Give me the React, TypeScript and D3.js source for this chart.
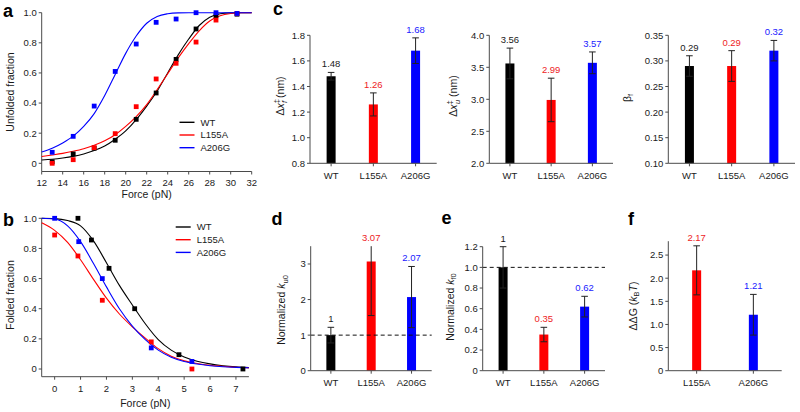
import React from "react";
import * as d3 from "d3";

// ---------- Data ----------
// Panel a: unfolded fraction vs force
const aForce = [13, 15, 17, 19, 21, 22.9, 24.8, 26.7, 28.6, 30.6];
const aWT = [0.01, 0.062, 0.1, 0.153, 0.292, 0.467, 0.69, 0.892, 0.98, 0.99];
const aL155A = [0.0, 0.024, 0.104, 0.197, 0.376, 0.56, 0.664, 0.805, 0.951, 0.995];
const aA206G = [0.073, 0.179, 0.38, 0.61, 0.792, 0.936, 0.958, 1.0, 1.0, 0.995];
// fitted curves
const aCurveForce = [12, 13, 14, 15, 16, 17, 18, 19, 20, 21, 22, 23, 24, 25, 26, 27, 28, 29, 30, 31, 32];
const aCurveWT = [0.022, 0.027, 0.035, 0.046, 0.062, 0.085, 0.115, 0.16, 0.215, 0.29, 0.38, 0.48, 0.6, 0.72, 0.825, 0.915, 0.97, 0.993, 0.999, 1, 1];
const aCurveL155A = [0.045, 0.055, 0.066, 0.08, 0.097, 0.12, 0.15, 0.19, 0.245, 0.31, 0.39, 0.49, 0.595, 0.7, 0.795, 0.88, 0.945, 0.98, 0.995, 1, 1];
const aCurveA206G = [0.075, 0.1, 0.135, 0.18, 0.245, 0.33, 0.45, 0.59, 0.73, 0.845, 0.93, 0.975, 0.993, 0.999, 1, 1, 1, 1, 1, 1, 1];

// Panel b: folded fraction vs force
const bForceWT = [0.9, 1.42, 2.1, 3.09, 4.8, 7.27];
const bWT = [1.0, 0.856, 0.668, 0.4, 0.095, 0.0];
const bForceL155A = [0, 0.9, 1.84, 3.73, 5.3];
const bL155A = [0.889, 0.75, 0.456, 0.18, 0.0];
const bForceA206G = [0, 0.93, 1.84, 3.73, 5.3];
const bA206G = [1.0, 0.845, 0.6, 0.14, 0.05];
const bCurveForce = [-0.5, 0, 0.5, 1, 1.5, 2, 2.5, 3, 3.5, 4, 4.5, 5, 5.5, 6, 6.5, 7, 7.5];
const bCurveWT = [1.0, 0.998, 0.985, 0.95, 0.85, 0.705, 0.555, 0.425, 0.3, 0.195, 0.125, 0.08, 0.052, 0.034, 0.022, 0.014, 0.009];
const bCurveL155A = [0.97, 0.92, 0.84, 0.725, 0.595, 0.47, 0.365, 0.28, 0.205, 0.135, 0.085, 0.055, 0.037, 0.025, 0.018, 0.012, 0.009];
const bCurveA206G = [1.0, 0.995, 0.95, 0.845, 0.7, 0.545, 0.4, 0.285, 0.195, 0.125, 0.078, 0.05, 0.033, 0.022, 0.015, 0.011, 0.008];

const legendNames = ["WT", "L155A", "A206G"];

// Bar panels
const categories = ["WT", "L155A", "A206G"];
const dxf = [1.48, 1.26, 1.68];
const dxfErr = [0.03, 0.09, 0.1];
const dxu = [3.56, 2.99, 3.57];
const dxuErr = [0.24, 0.34, 0.17];
const betaF = [0.29, 0.29, 0.32];
const betaFErr = [0.02, 0.03, 0.02];
const ku0 = [1, 3.07, 2.07];
const ku0Err = [0.22, 1.52, 0.86];
const kf0 = [1, 0.35, 0.62];
const kf0Err = [0.2, 0.07, 0.1];
const ddgCategories = ["L155A", "A206G"];
const ddg = [2.17, 1.21];
const ddgErr = [0.53, 0.44];

const aXTicks = [12, 14, 16, 18, 20, 22, 24, 26, 28, 30, 32];
const fracTicks = [0, 0.2, 0.4, 0.6, 0.8, 1.0];
const bXTicks = [0, 1, 2, 3, 4, 5, 6, 7];
const c1Ticks = [0.8, 1.0, 1.2, 1.4, 1.6, 1.8];
const c2Ticks = [2.0, 2.5, 3.0, 3.5, 4.0];
const c3Ticks = [0.1, 0.15, 0.2, 0.25, 0.3, 0.35];
const dTicks = [0, 1, 2, 3];
const eTicks = [0, 0.2, 0.4, 0.6, 0.8, 1.0, 1.2];
const fTicks = [0, 0.5, 1.0, 1.5, 2.0, 2.5];

// ---------- Styles ----------
const FONT = "'Liberation Sans', Arial, Helvetica, sans-serif";
const AX = "#4a4a4a";
const TXT = "#1a1a1a";
const COLORS = ["#000000", "#ff0000", "#0000ff"];
const LABEL_COLORS = ["#1a1a1a", "#ee1c25", "#1a1aff"];
const FS = 9.5;
const TFS = 10.5;

const fmt1 = (d: number) => (d === 0 ? "0" : d.toFixed(1));
const fmt2 = (d: number) => d.toFixed(2);
const fmt0 = (d: number) => String(d);

function YAxis({ scale, x, ticks, fmt, y0, y1 }: any) {
  return (
    <g>
      <line x1={x} x2={x} y1={y0} y2={y1} stroke={AX} strokeWidth={1} />
      {ticks.map((t: number) => (
        <g key={t}>
          <line x1={x - 3} x2={x} y1={scale(t)} y2={scale(t)} stroke={AX} strokeWidth={1} />
          <text x={x - 5} y={scale(t)} dy="0.36em" textAnchor="end" fontSize={FS} fill={TXT}>
            {fmt(t)}
          </text>
        </g>
      ))}
    </g>
  );
}

function XAxisNum({ scale, y, ticks, x0, x1, labelOffset }: any) {
  return (
    <g>
      <line x1={x0} x2={x1} y1={y} y2={y} stroke={AX} strokeWidth={1} />
      {ticks.map((t: number) => (
        <g key={t}>
          <line x1={scale(t)} x2={scale(t)} y1={y} y2={y + 3} stroke={AX} strokeWidth={1} />
          <text x={scale(t)} y={y + labelOffset} textAnchor="middle" fontSize={FS} fill={TXT}>
            {t}
          </text>
        </g>
      ))}
    </g>
  );
}

function CurvePanel({ x, y, axisY, xTicks, curves, points, legendX, legendY, xTitle, xTitleY, yTitle, yTitleX, yTitleY, labelOffset }: any) {
  const line = d3
    .line<[number, number]>()
    .x((d) => x(d[0]))
    .y((d) => y(d[1]))
    .curve(d3.curveMonotoneX);
  const [xa, xb] = x.range();
  return (
    <g>
      <YAxis scale={y} x={xa} ticks={fracTicks} fmt={fmt1} y0={y(1)} y1={axisY} />
      <XAxisNum scale={x} y={axisY} ticks={xTicks} x0={xa} x1={xb} labelOffset={labelOffset} />
      {curves.map((c: any, i: number) => (
        <path key={i} d={line(c.xs.map((v: number, j: number) => [v, c.ys[j]])) || ""} fill="none" stroke={COLORS[i]} strokeWidth={1.1} />
      ))}
      {points.map((p: any, i: number) =>
        p.xs.map((v: number, j: number) => (
          <rect key={i + "-" + j} x={x(v) - 2.4} y={y(p.ys[j]) - 2.4} width={4.8} height={4.8} fill={COLORS[i]} />
        ))
      )}
      {legendNames.map((n, i) => (
        <g key={n}>
          <line x1={legendX} x2={legendX + 15} y1={legendY + i * 12.7} y2={legendY + i * 12.7} stroke={COLORS[i]} strokeWidth={1.4} />
          <text x={legendX + 21} y={legendY + i * 12.7} dy="0.36em" fontSize={FS} fill={TXT}>
            {n}
          </text>
        </g>
      ))}
      <text x={(xa + xb) / 2} y={xTitleY} textAnchor="middle" fontSize={TFS} fill={TXT}>
        {xTitle}
      </text>
      <text transform={`translate(${yTitleX},${yTitleY}) rotate(-90)`} textAnchor="middle" fontSize={TFS} fill={TXT}>
        {yTitle}
      </text>
    </g>
  );
}

function BarPanel({ cats, values, errs, colorIdx, x0, x1, yScale, ticks, fmt, yTop, dashed, children }: any) {
  const x = d3.scalePoint<string>().domain(cats).range([x0, x1]).padding(0.5);
  const y0 = yScale.range()[0];
  const [dMin, dMax] = yScale.domain();
  const bw = 9;
  return (
    <g>
      {cats.map((c: string, i: number) => {
        const cx = x(c) as number;
        const col = colorIdx[i];
        const top = values[i] + errs[i];
        const bot = values[i] - errs[i];
        const clipped = top > dMax;
        const yt = yScale(Math.min(top, dMax));
        const yb = yScale(Math.max(bot, dMin));
        return (
          <g key={c}>
            <rect x={cx - bw / 2} y={yScale(values[i])} width={bw} height={y0 - yScale(values[i])} fill={COLORS[col]} />
            <line x1={cx} x2={cx} y1={yt} y2={yb} stroke="#222" strokeWidth={1} />
            {!clipped && <line x1={cx - 3.3} x2={cx + 3.3} y1={yt} y2={yt} stroke="#222" strokeWidth={1} />}
            <line x1={cx - 3.3} x2={cx + 3.3} y1={yb} y2={yb} stroke="#222" strokeWidth={1} />
            <text x={cx} y={yt - 5} textAnchor="middle" fontSize={FS} fill={LABEL_COLORS[col]}>
              {values[i] === 1 ? "1" : values[i].toFixed(2)}
            </text>
            <line x1={cx} x2={cx} y1={y0} y2={y0 + 3} stroke={AX} strokeWidth={1} />
            <text x={cx} y={y0 + 15.5} textAnchor="middle" fontSize={FS} fill={TXT}>
              {c}
            </text>
          </g>
        );
      })}
      {dashed !== undefined && (
        <line x1={x0} x2={x1} y1={yScale(dashed)} y2={yScale(dashed)} stroke="#111" strokeWidth={1} strokeDasharray="4,3" />
      )}
      <YAxis scale={yScale} x={x0} ticks={ticks} fmt={fmt} y0={yTop} y1={y0} />
      <line x1={x0} x2={x1} y1={y0} y2={y0} stroke={AX} strokeWidth={1} />
      {children}
    </g>
  );
}

export default function App() {
  const ax = d3.scaleLinear().domain([12, 32]).range([41.7, 251.7]);
  const ay = d3.scaleLinear().domain([0, 1]).range([163.3, 12.7]);
  const bx = d3.scaleLinear().domain([-0.5, 7.5]).range([41.7, 248.9]);
  const by = d3.scaleLinear().domain([0, 1]).range([369, 218.3]);

  const c1y = d3.scaleLinear().domain([0.8, 1.8]).range([163.3, 35.3]);
  const c2y = d3.scaleLinear().domain([2, 4]).range([163.3, 35.3]);
  const c3y = d3.scaleLinear().domain([0.1, 0.35]).range([163.3, 35.3]);
  const dy = d3.scaleLinear().domain([0, 3.5]).range([370.7, 246.2]);
  const ey = d3.scaleLinear().domain([0, 1.2]).range([370.7, 246.7]);
  const fy = d3.scaleLinear().domain([0, 2.8]).range([370.7, 241.2]);

  const sub = { fontSize: 7.5 };

  return (
    <svg width={800} height={412} style={{ position: "absolute", left: 0, top: 0, background: "#fff" }} fontFamily={FONT}>
      <rect width={800} height={412} fill="#fff" />
      {/* Panel letters */}
      <g fontWeight="bold" fontSize={18} fill="#000">
        <text x={3} y={17}>a</text>
        <text x={3} y={226}>b</text>
        <text x={273} y={15}>c</text>
        <text x={271.5} y={225}>d</text>
        <text x={441.5} y={224}>e</text>
        <text x={628} y={225}>f</text>
      </g>

      <CurvePanel
        x={ax}
        y={ay}
        axisY={171.5}
        xTicks={aXTicks}
        curves={[
          { xs: aCurveForce, ys: aCurveWT },
          { xs: aCurveForce, ys: aCurveL155A },
          { xs: aCurveForce, ys: aCurveA206G },
        ]}
        points={[
          { xs: aForce, ys: aWT },
          { xs: aForce, ys: aL155A },
          { xs: aForce, ys: aA206G },
        ]}
        legendX={179.5}
        legendY={122.3}
        xTitle="Force (pN)"
        xTitleY={197.5}
        yTitle="Unfolded fraction"
        yTitleX={13.5}
        yTitleY={92}
        labelOffset={14.5}
      />

      <CurvePanel
        x={bx}
        y={by}
        axisY={376.7}
        xTicks={bXTicks}
        curves={[
          { xs: bCurveForce, ys: bCurveWT },
          { xs: bCurveForce, ys: bCurveL155A },
          { xs: bCurveForce, ys: bCurveA206G },
        ]}
        points={[
          { xs: bForceWT, ys: bWT },
          { xs: bForceL155A, ys: bL155A },
          { xs: bForceA206G, ys: bA206G },
        ]}
        legendX={175.7}
        legendY={227}
        xTitle="Force (pN)"
        xTitleY={406.5}
        yTitle="Folded fraction"
        yTitleX={13.5}
        yTitleY={295}
        labelOffset={15.5}
      />

      {/* c1 */}
      <BarPanel cats={categories} values={dxf} errs={dxfErr} colorIdx={[0, 1, 2]} x0={310} x1={436.7} yScale={c1y} ticks={c1Ticks} fmt={(d: number) => d.toFixed(1)} yTop={35.3}>
        <text transform="translate(283.5,96) rotate(-90)" textAnchor="middle" fontSize={TFS} fill={TXT}>
          Δ<tspan fontStyle="italic">x</tspan>
          <tspan dy={-4.5} style={sub}>‡</tspan>
          <tspan dx={-3.8} dy={7.5} style={sub} fontStyle="italic">f</tspan>
          <tspan dy={-3}> (nm)</tspan>
        </text>
      </BarPanel>

      {/* c2 */}
      <BarPanel cats={categories} values={dxu} errs={dxuErr} colorIdx={[0, 1, 2]} x0={489.3} x1={613} yScale={c2y} ticks={c2Ticks} fmt={(d: number) => d.toFixed(1)} yTop={35.3}>
        <text transform="translate(456.5,96) rotate(-90)" textAnchor="middle" fontSize={TFS} fill={TXT}>
          Δ<tspan fontStyle="italic">x</tspan>
          <tspan dy={-4.5} style={sub}>‡</tspan>
          <tspan dx={-3.8} dy={7.5} style={sub} fontStyle="italic">u</tspan>
          <tspan dy={-3}> (nm)</tspan>
        </text>
      </BarPanel>

      {/* c3 */}
      <BarPanel cats={categories} values={betaF} errs={betaFErr} colorIdx={[0, 1, 2]} x0={668.3} x1={795} yScale={c3y} ticks={c3Ticks} fmt={fmt2} yTop={35.3}>
        <text transform="translate(630.5,98) rotate(-90)" textAnchor="middle" fontSize={TFS} fill={TXT}>
          β<tspan dy={2.5} style={sub}>f</tspan>
        </text>
      </BarPanel>

      {/* d */}
      <BarPanel cats={categories} values={ku0} errs={ku0Err} colorIdx={[0, 1, 2]} x0={310.7} x1={431.7} yScale={dy} ticks={dTicks} fmt={fmt0} yTop={246.2} dashed={1}>
        <text transform="translate(285,310) rotate(-90)" textAnchor="middle" fontSize={TFS} fill={TXT}>
          Normalized <tspan fontStyle="italic">k</tspan>
          <tspan dy={2.5} style={sub}>u0</tspan>
        </text>
      </BarPanel>

      {/* e */}
      <BarPanel cats={categories} values={kf0} errs={kf0Err} colorIdx={[0, 1, 2]} x0={482.7} x1={605} yScale={ey} ticks={eTicks} fmt={fmt1} yTop={246.7} dashed={1}>
        <text transform="translate(453.5,307) rotate(-90)" textAnchor="middle" fontSize={TFS} fill={TXT}>
          Normalized <tspan fontStyle="italic">k</tspan>
          <tspan dy={2.5} style={sub}>f0</tspan>
        </text>
      </BarPanel>

      {/* f */}
      <BarPanel cats={ddgCategories} values={ddg} errs={ddgErr} colorIdx={[1, 2]} x0={668.3} x1={781.7} yScale={fy} ticks={fTicks} fmt={fmt1} yTop={241.2}>
        <text transform="translate(636.5,306) rotate(-90)" textAnchor="middle" fontSize={TFS} fill={TXT}>
          ΔΔG (<tspan fontStyle="italic">k</tspan>
          <tspan dy={2.5} style={sub}>B</tspan>
          <tspan dy={-2.5} fontStyle="italic">T</tspan>)
        </text>
      </BarPanel>
    </svg>
  );
}
